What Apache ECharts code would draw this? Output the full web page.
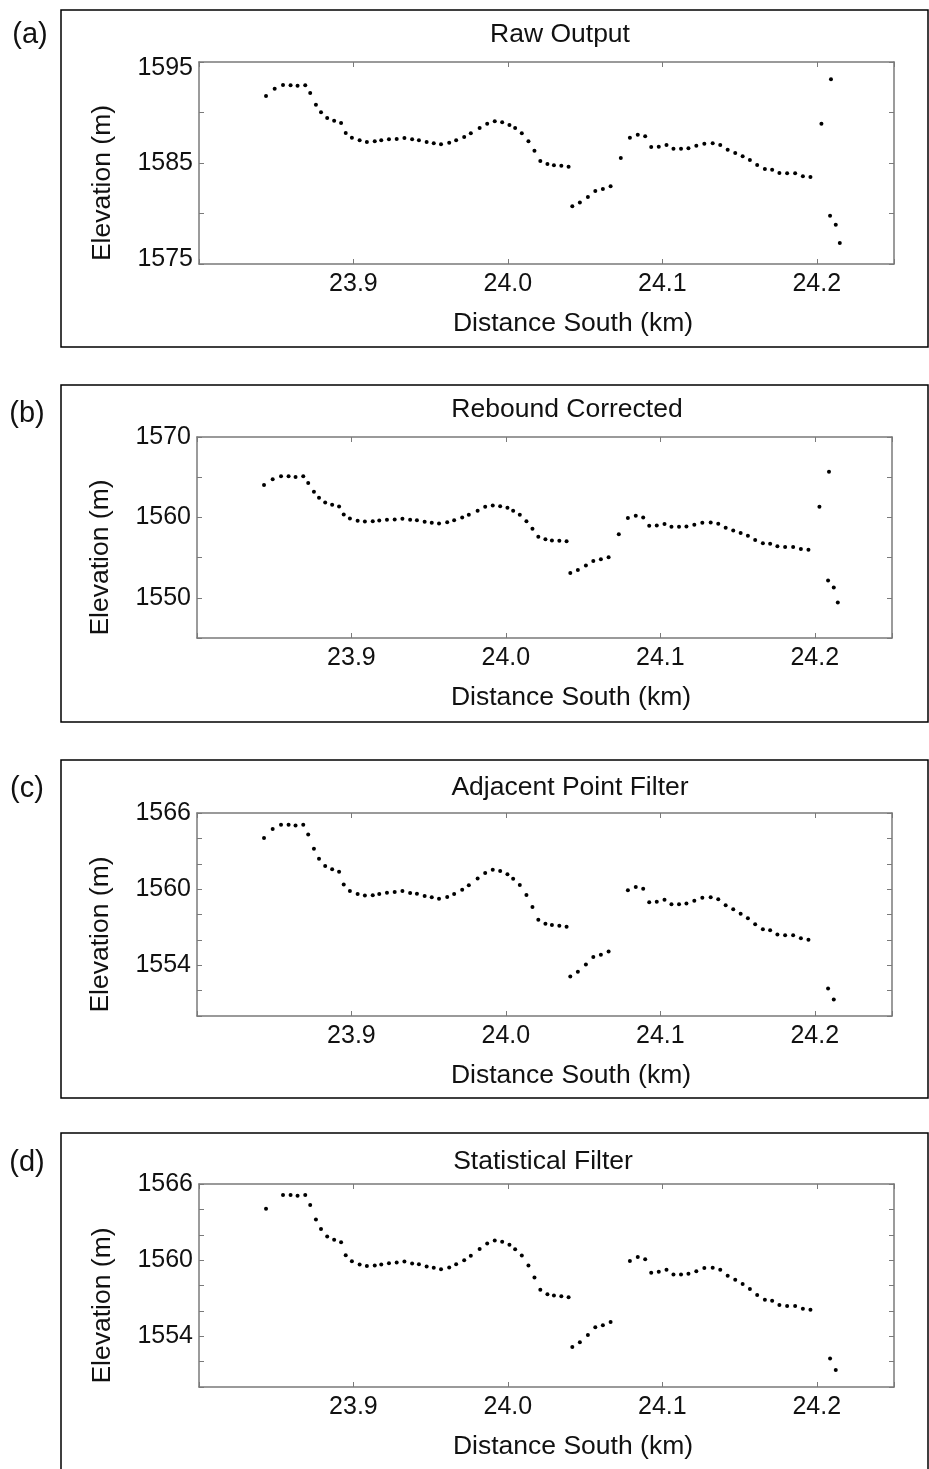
<!DOCTYPE html>
<html><head><meta charset="utf-8">
<script src="https://cdn.jsdelivr.net/npm/echarts@6/dist/echarts.min.js"></script>
<style>html,body{margin:0;padding:0;background:#fff}#c{width:929px;height:1469px}</style>
</head><body><div id="c"></div>
<script>
// ---- data ----
const distanceKm = [23.8434, 23.8490, 23.8544, 23.8593, 23.8638, 23.8688, 23.8720, 23.8757, 23.8790, 23.8830,
  23.8875, 23.8920, 23.8950, 23.8990, 23.9040, 23.9087, 23.9138, 23.9180, 23.9230, 23.9280,
  23.9330, 23.9380, 23.9424, 23.9474, 23.9520, 23.9567, 23.9620, 23.9665, 23.9717, 23.9760,
  23.9817, 23.9866, 23.9915, 23.9963, 24.0010, 24.0047, 24.0090, 24.0133, 24.0172, 24.0210,
  24.0256, 24.0298, 24.0346, 24.0393, 24.0417, 24.0466, 24.0518, 24.0566, 24.0615, 24.0665,
  24.0731, 24.0790, 24.0841, 24.0889, 24.0928, 24.0977, 24.1027, 24.1072, 24.1121, 24.1169,
  24.1220, 24.1272, 24.1326, 24.1375, 24.1423, 24.1472, 24.1520, 24.1567, 24.1614, 24.1664,
  24.1711, 24.1758, 24.1808, 24.1860, 24.1910, 24.1959, 24.2030, 24.2092, 24.2086, 24.2123, 24.2149];

const elevRaw = [1591.63, 1592.36, 1592.72, 1592.69, 1592.65, 1592.69, 1591.93, 1590.77, 1590.02, 1589.46,
  1589.19, 1588.96, 1587.97, 1587.50, 1587.25, 1587.08, 1587.15, 1587.25, 1587.35, 1587.38,
  1587.48, 1587.35, 1587.25, 1587.08, 1586.95, 1586.85, 1587.01, 1587.25, 1587.57, 1587.94,
  1588.47, 1588.89, 1589.13, 1589.03, 1588.76, 1588.47, 1587.94, 1587.15, 1586.22, 1585.20,
  1584.90, 1584.77, 1584.73, 1584.63, 1580.71, 1581.10, 1581.63, 1582.23, 1582.43, 1582.69,
  1585.50, 1587.50, 1587.80, 1587.64, 1586.58, 1586.62, 1586.78, 1586.42, 1586.42, 1586.45,
  1586.71, 1586.91, 1586.95, 1586.78, 1586.32, 1585.99, 1585.66, 1585.30, 1584.80, 1584.40,
  1584.34, 1584.01, 1583.98, 1583.98, 1583.68, 1583.61, 1588.89, 1593.29, 1579.78, 1578.89, 1577.08];

const elevRebound = [1564.04, 1564.74, 1565.11, 1565.11, 1565.03, 1565.11, 1564.29, 1563.18, 1562.43, 1561.85,
  1561.57, 1561.36, 1560.37, 1559.87, 1559.58, 1559.50, 1559.53, 1559.62, 1559.71, 1559.75,
  1559.83, 1559.71, 1559.66, 1559.46, 1559.34, 1559.25, 1559.41, 1559.66, 1559.99, 1560.33,
  1560.82, 1561.32, 1561.48, 1561.39, 1561.20, 1560.82, 1560.33, 1559.53, 1558.59, 1557.60,
  1557.27, 1557.14, 1557.10, 1557.02, 1553.09, 1553.47, 1554.01, 1554.58, 1554.79, 1555.04,
  1557.89, 1559.91, 1560.20, 1559.99, 1558.97, 1559.00, 1559.17, 1558.84, 1558.84, 1558.88,
  1559.09, 1559.34, 1559.37, 1559.21, 1558.72, 1558.38, 1558.05, 1557.72, 1557.18, 1556.77,
  1556.73, 1556.40, 1556.31, 1556.31, 1556.07, 1555.99, 1561.32, 1565.69, 1552.15, 1551.28, 1549.42];

const elevAdjacent = [1564.02, 1564.74, 1565.08, 1565.08, 1565.02, 1565.08, 1564.31, 1563.18, 1562.39, 1561.83,
  1561.57, 1561.36, 1560.36, 1559.86, 1559.62, 1559.49, 1559.52, 1559.62, 1559.72, 1559.78,
  1559.86, 1559.70, 1559.64, 1559.46, 1559.36, 1559.25, 1559.38, 1559.62, 1559.96, 1560.31,
  1560.83, 1561.28, 1561.52, 1561.42, 1561.18, 1560.81, 1560.33, 1559.54, 1558.59, 1557.59,
  1557.27, 1557.17, 1557.11, 1557.04, 1553.11, 1553.48, 1554.06, 1554.66, 1554.82, 1555.09,
  null, 1559.91, 1560.17, 1560.02, 1558.96, 1559.01, 1559.17, 1558.81, 1558.81, 1558.86,
  1559.09, 1559.33, 1559.36, 1559.20, 1558.73, 1558.41, 1558.06, 1557.70, 1557.23, 1556.83,
  1556.75, 1556.43, 1556.36, 1556.36, 1556.12, 1556.01, null, null, 1552.17, 1551.30, null];

const elevStatistical = [1564.05, null, 1565.13, 1565.13, 1565.08, 1565.13, 1564.34, 1563.21, 1562.45, 1561.87,
  1561.60, 1561.40, 1560.39, 1559.92, 1559.66, 1559.53, 1559.58, 1559.66, 1559.76, 1559.82,
  1559.90, 1559.74, 1559.68, 1559.50, 1559.39, 1559.29, 1559.42, 1559.68, 1560.00, 1560.34,
  1560.87, 1561.32, 1561.55, 1561.44, 1561.21, 1560.85, 1560.37, 1559.58, 1558.63, 1557.66,
  1557.32, 1557.21, 1557.16, 1557.08, 1553.16, 1553.53, 1554.10, 1554.71, 1554.87, 1555.13,
  null, 1559.94, 1560.24, 1560.06, 1559.00, 1559.08, 1559.24, 1558.87, 1558.87, 1558.92,
  1559.13, 1559.37, 1559.39, 1559.24, 1558.76, 1558.45, 1558.11, 1557.73, 1557.26, 1556.87,
  1556.79, 1556.47, 1556.39, 1556.39, 1556.16, 1556.08, null, null, 1552.24, 1551.34, null];

const panelTags = ['(a)', '(b)', '(c)', '(d)'];
const panelTitles = ['Raw Output', 'Rebound Corrected', 'Adjacent Point Filter', 'Statistical Filter'];
const xTickLabels = ['23.9', '24.0', '24.1', '24.2'];
const yTickLabelsA = ['1575', '1585', '1595'];
const yTickLabelsB = ['1550', '1560', '1570'];
const yTickLabelsC = ['1554', '1560', '1566'];
const yTickLabelsD = ['1554', '1560', '1566'];
const xAxisName = 'Distance South (km)';
const yAxisName = 'Elevation (m)';

// ---- layout ----
const FONT = "'Liberation Sans', Arial, Helvetica, sans-serif";
const series = [elevRaw, elevRebound, elevAdjacent, elevStatistical];
const yLabelSets = [yTickLabelsA, yTickLabelsB, yTickLabelsC, yTickLabelsD];
const yRanges = [[1575, 1595, 5], [1545, 1570, 5], [1550, 1566, 2], [1550, 1566, 2]];
const clampEnds = [true, false, false, false];
const grids = [
  {left: 199, top: 62, width: 695, height: 202},
  {left: 197, top: 437, width: 695, height: 201},
  {left: 197, top: 813, width: 695, height: 203},
  {left: 199, top: 1184, width: 695, height: 203}
];
const boxes = [[61, 10, 867, 337], [61, 385, 867, 337], [61, 760, 867, 338], [61, 1133, 867, 340]];
const titlePos = [[560, 35], [567, 410], [570, 788], [543, 1162]];
const tagPos = [[30, 35], [27, 414], [27, 789], [27, 1163]];
const AX = '#7a7a7a';

const xAxes = [], yAxes = [], seriesOpts = [], graphics = [];
for (let i = 0; i < 4; i++) {
  const xl = xTickLabels, yl = yLabelSets[i];
  const common = {
    axisLine: {show: true, onZero: false, lineStyle: {color: AX, width: 1.5}},
    axisTick: {show: true, inside: true, length: 5, lineStyle: {color: AX, width: 1}},
    splitLine: {show: false}
  };
  xAxes.push(Object.assign({
    type: 'value', gridIndex: i, position: 'bottom', min: 23.8, max: 24.25, interval: 0.1,
    name: xAxisName, nameLocation: 'middle', nameGap: 46,
    nameTextStyle: {fontFamily: FONT, fontSize: 26.5, color: '#111', padding: [0, 0, 0, 53]},
    axisLabel: {margin: 8, fontFamily: FONT, fontSize: 25, color: '#111',
      formatter: v => { const s = v.toFixed(1); return xl.indexOf(s) >= 0 ? s : ''; }}
  }, common));
  xAxes.push(Object.assign({
    type: 'value', gridIndex: i, position: 'top', min: 23.8, max: 24.25, interval: 0.1,
    axisLabel: {show: false}
  }, common));
  const [ymin, ymax, yint] = yRanges[i];
  const clamp = clampEnds[i];
  yAxes.push(Object.assign({
    type: 'value', gridIndex: i, position: 'left', min: ymin, max: ymax, interval: yint,
    name: yAxisName, nameLocation: 'middle', nameGap: 83,
    nameTextStyle: {fontFamily: FONT, fontSize: 26.5, color: '#111', padding: [0, 40, 0, 0]},
    axisLabel: {margin: 6, fontFamily: FONT, fontSize: 25, color: '#111',
      rich: {
        lo: {fontFamily: FONT, fontSize: 25, color: '#111', padding: [0, 0, 10, 0]},
        hi: {fontFamily: FONT, fontSize: 25, color: '#111', padding: [12, 0, 0, 0]}
      },
      formatter: v => {
        const s = String(Math.round(v));
        if (yl.indexOf(s) < 0) return '';
        if (clamp && Math.round(v) === ymax) return '{hi|' + s + '}';
        if (clamp && Math.round(v) === ymin) return '{lo|' + s + '}';
        return s;
      }}
  }, common));
  yAxes.push(Object.assign({
    type: 'value', gridIndex: i, position: 'right', min: ymin, max: ymax, interval: yint,
    axisLabel: {show: false}
  }, common));
  const pts = [];
  distanceKm.forEach((x, k) => { if (series[i][k] !== null) pts.push([x, series[i][k]]); });
  seriesOpts.push({
    type: 'scatter', name: panelTitles[i], xAxisIndex: 2 * i, yAxisIndex: 2 * i,
    data: pts, symbol: 'circle', symbolSize: 4, itemStyle: {color: '#000', opacity: 1}, silent: true
  });
  const b = boxes[i];
  graphics.push({type: 'rect', shape: {x: b[0], y: b[1], width: b[2], height: b[3]},
    style: {fill: 'none', stroke: '#000', lineWidth: 1.5}, silent: true});
  graphics.push({type: 'text', x: titlePos[i][0], y: titlePos[i][1],
    style: {text: panelTitles[i], font: '26.5px ' + FONT, fill: '#111', textAlign: 'center', textVerticalAlign: 'middle'}});
  graphics.push({type: 'text', x: tagPos[i][0], y: tagPos[i][1],
    style: {text: panelTags[i], font: '29px ' + FONT, fill: '#111', textAlign: 'center', textVerticalAlign: 'middle'}});
}

const chart = echarts.init(document.getElementById('c'), null, {renderer: 'canvas'});
chart.setOption({
  backgroundColor: '#fff',
  animation: false,
  grid: grids.map(g => Object.assign({containLabel: false}, g)),
  xAxis: xAxes,
  yAxis: yAxes,
  series: seriesOpts,
  graphic: graphics
});
</script></body></html>
